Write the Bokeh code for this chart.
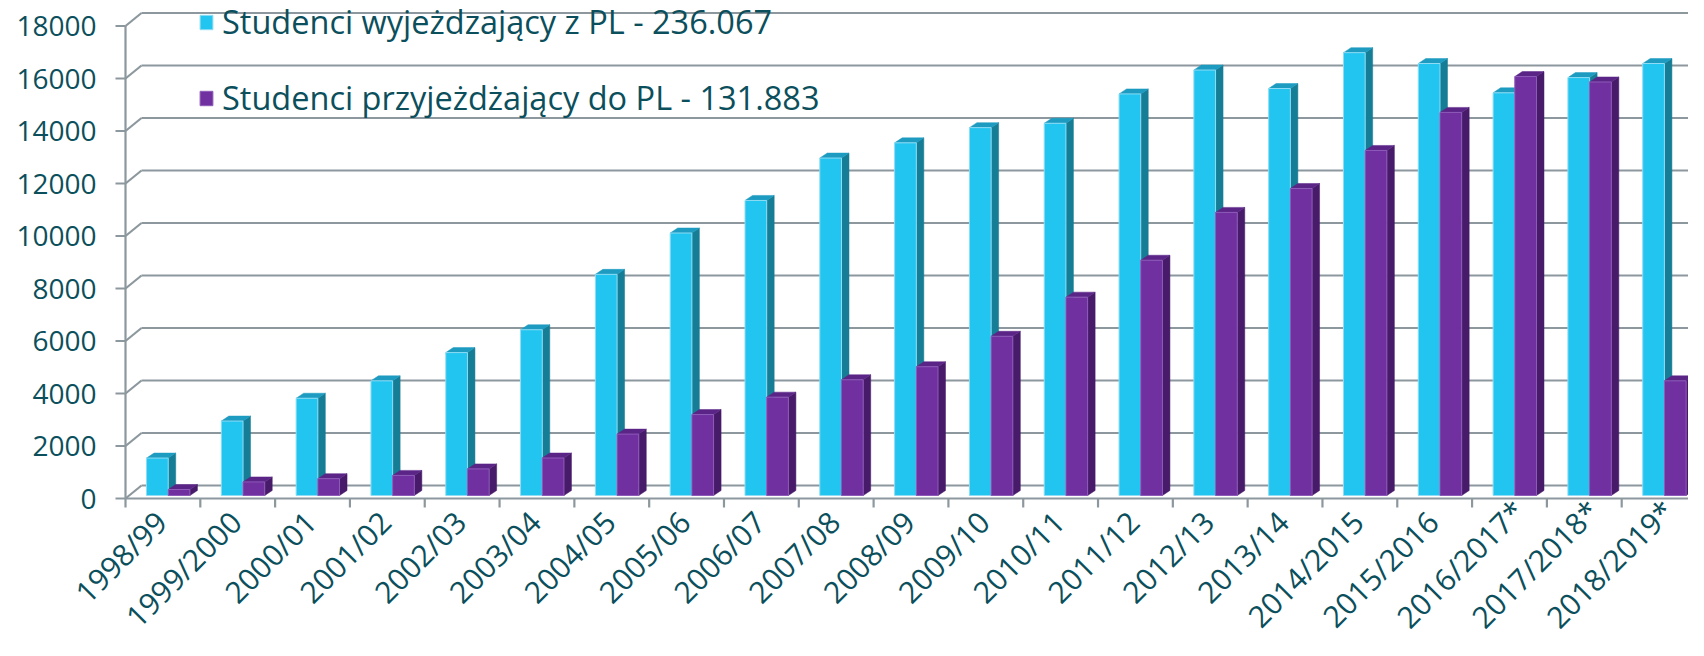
import math
from bokeh.plotting import figure
from bokeh.models import Range1d, Legend, LegendItem, ColumnDataSource
from bokeh.core.properties import value
from bokeh.embed import file_html
from bokeh.resources import INLINE

# ---------------- data ----------------
categories = ["1998/99", "1999/2000", "2000/01", "2001/02", "2002/03", "2003/04",
              "2004/05", "2005/06", "2006/07", "2007/08", "2008/09", "2009/10",
              "2010/11", "2011/12", "2012/13", "2013/14", "2014/2015", "2015/2016",
              "2016/2017*", "2017/2018*", "2018/2019*"]
outgoing = [1426, 2836, 3705, 4368, 5444, 6314, 8425, 10000, 11240, 12855, 13434,
            14014, 14180, 15298, 16208, 15505, 16870, 16457, 15340, 15920, 16457]
incoming = [228, 517, 642, 766, 1014, 1428, 2339, 3084, 3747, 4409, 4906,
            6065, 7556, 8963, 10785, 11696, 13145, 14594, 15960, 15753, 4368]
y_ticks = [0, 2000, 4000, 6000, 8000, 10000, 12000, 14000, 16000, 18000]
y_tick_labels = ["0", "2000", "4000", "6000", "8000", "10000", "12000",
                 "14000", "16000", "18000"]
series_names = ["Studenci wyjeżdzający z PL - 236.067",
                "Studenci przyjeżdżający do PL - 131.883"]

# ---------------- layout ----------------
W, H = 1688, 640
AXIS_X = 125               # canvas column of the front value axis
ZERO_Y = 498               # canvas row of the value 0 (front floor edge)
N = len(categories)
SX = 1.0 / 74.81           # data units per px (x): one category = 74.81 px
SY = 2000.0 / 52.5         # data units per px (y): 2000 = 52.5 px

TEAL = "#0b4f5c"
GRID = "#8c989e"
FONT = "Open Sans"
LW = 2.2

p = figure(width=W, height=H, output_backend="svg", toolbar_location=None,
           x_range=Range1d(-AXIS_X * SX, (W - AXIS_X) * SX),
           y_range=Range1d(-(H - ZERO_Y) * SY, ZERO_Y * SY),
           min_border_left=0, min_border_bottom=0,
           min_border_top=0, min_border_right=0)
p.outline_line_color = None
p.xgrid.visible = False
p.ygrid.visible = False
p.xaxis.visible = False
p.yaxis.visible = False
p.background_fill_color = "white"
p.border_fill_color = "white"

# 3D walls: back gridlines and left-wall diagonals
DXW, DYW = 16 * SX, 13 * SY
M = len(y_ticks)
p.segment(x0=[DXW] * M, y0=[v + DYW for v in y_ticks],
          x1=[N + 1] * M, y1=[v + DYW for v in y_ticks],
          line_color=GRID, line_width=LW)
p.segment(x0=[0] * M, y0=y_ticks, x1=[DXW] * M, y1=[v + DYW for v in y_ticks],
          line_color=GRID, line_width=LW)

# value axis (front left edge)
p.segment(x0=[0], y0=[0], x1=[0], y1=[y_ticks[-1]], line_color=GRID, line_width=LW)
p.segment(x0=[-10 * SX] * M, y0=y_ticks, x1=[0] * M, y1=y_ticks,
          line_color=GRID, line_width=LW)
ylab_src = ColumnDataSource(dict(x=[-29 * SX] * M, y=y_ticks, text=y_tick_labels))
p.text(x="x", y="y", text="text", source=ylab_src, text_align="right",
       text_baseline="middle", text_font=value(FONT), text_font_size="28px",
       text_color=TEAL)

# category axis (front floor edge, boundary ticks, rotated labels)
p.segment(x0=[0], y0=[0], x1=[N + 1], y1=[0], line_color=GRID, line_width=LW)
bounds_ticks = list(range(N + 1))
p.segment(x0=bounds_ticks, y0=[0] * (N + 1), x1=bounds_ticks, y1=[-9 * SY] * (N + 1),
          line_color=GRID, line_width=LW)
# a trailing asterisk sticks out beyond the label's usual end point
star_px = [11 if c.endswith("*") else 0 for c in categories]
cat_src = ColumnDataSource(dict(x=[i + 0.5 + (s - 2) * SX for i, s in enumerate(star_px)],
                                y=[(s - 18) * SY for s in star_px], text=categories))
p.text(x="x", y="y", text="text", source=cat_src, angle=math.pi / 4,
       text_align="right", text_baseline="middle",
       text_font=value(FONT), text_font_size="30px", text_color=TEAL)

# bars (front face + 3D side and top)
BASE = 3 * SY
BW = 0.29
OFF = [0.281, 0.571]
DXB, DYB = 7.5 * SX, 5 * SY
front_cols = ["#22c4f0", "#7030a0"]
side_cols = ["#167d96", "#471b69"]
top_cols = ["#1d9bc0", "#5b2587"]
edge_cols = ["#8fdcf4", "#8d5bb8"]

fronts = []
for k, vals in enumerate([outgoing, incoming]):
    lefts = [i + OFF[k] for i in range(N)]
    rights = [l + BW for l in lefts]
    tops = [BASE + v for v in vals]
    side_xs = [[r, r + DXB, r + DXB, r] for r in rights]
    side_ys = [[BASE, BASE + DYB, t + DYB, t] for t in tops]
    top_xs = [[l, l + DXB, r + DXB, r] for l, r in zip(lefts, rights)]
    top_ys = [[t, t + DYB, t + DYB, t] for t in tops]
    p.patches(side_xs, side_ys, fill_color=side_cols[k], line_color=side_cols[k], line_width=0.5)
    p.patches(top_xs, top_ys, fill_color=top_cols[k], line_color=top_cols[k], line_width=0.5)
    src = ColumnDataSource(dict(x=[l + BW / 2 for l in lefts], top=tops,
                                bottom=[BASE] * N, cat=categories, val=vals))
    r = p.vbar(x="x", top="top", bottom="bottom", width=BW, source=src,
               fill_color=front_cols[k], line_color=edge_cols[k], line_width=1)
    fronts.append(r)

# legends (one per row); location measured from the frame's bottom-left
for k, (vy, name) in enumerate(zip([454, 378], series_names)):
    leg = Legend(items=[LegendItem(label=name, renderers=[fronts[k]])],
                 location=(AXIS_X + 73, vy + (H - ZERO_Y)), orientation="vertical",
                 glyph_width=16, glyph_height=18, label_standoff=8,
                 label_text_font=FONT, label_text_font_size="32.5px",
                 label_text_color=TEAL, background_fill_alpha=0,
                 border_line_color=None, padding=0, margin=0, spacing=0)
    p.add_layout(leg)

open("out.html", "w").write(file_html(p, INLINE))
